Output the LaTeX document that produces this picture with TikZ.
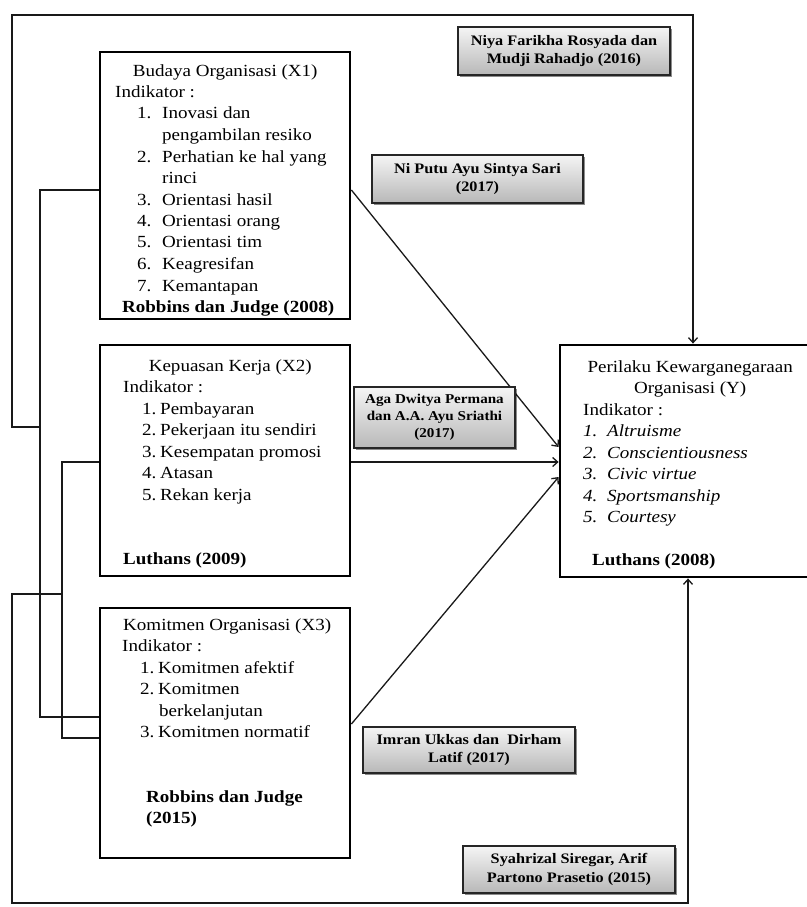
\documentclass[tikz,border=0pt]{standalone}
\usepackage{fontspec}
\setmainfont{Liberation Serif}[FakeStretch=1.12]
\usetikzlibrary{arrows.meta,shadows}
\newcommand\numitem[4]{\hspace*{#1}\makebox[#2][l]{#3}#4}
\begin{document}
\begin{tikzpicture}[x=1pt,y=-1pt,
  mainbox/.style={draw=black, line width=2.8pt, fill=white, rectangle, inner sep=0pt},
  refbox/.style={draw=black!85, line width=1.4pt, rectangle, inner sep=0pt,
    top color=black!4, bottom color=black!28,
    drop shadow={shadow xshift=1.6pt, shadow yshift=-1.6pt, opacity=0.45, fill=black},
    align=center, font=\fontsize{14.5}{18.5}\selectfont\bfseries},
  conn/.style={line width=1.3pt, draw=black!90},
  arr/.style={conn, -{Straight Barb[length=5pt,width=9pt]}},
  txt/.style={anchor=base west, inner sep=0pt, font=\fontsize{17}{21.5}\selectfont}
]
\useasboundingbox (0,0) rectangle (806,907);

% main boxes
\node[mainbox, minimum width=250pt, minimum height=267pt] (X1) at (225,185.5) {};
\node[mainbox, minimum width=250pt, minimum height=231pt] (X2) at (225,460.5) {};
\node[mainbox, minimum width=250pt, minimum height=250pt] (X3) at (225,733) {};
\node[mainbox, minimum width=260pt, minimum height=232pt] (Y) at (690,461) {};

% texts
\node[txt] (X1t) at (115,76) {\parbox[t]{230pt}{%
\makebox[220pt][c]{Budaya Organisasi (X1)}\\
Indikator :\\
\numitem{22pt}{25pt}{1.}{Inovasi dan}\\
\hspace*{47pt}pengambilan resiko\\
\numitem{22pt}{25pt}{2.}{Perhatian ke hal yang}\\
\hspace*{47pt}rinci\\
\numitem{22pt}{25pt}{3.}{Orientasi hasil}\\
\numitem{22pt}{25pt}{4.}{Orientasi orang}\\
\numitem{22pt}{25pt}{5.}{Orientasi tim}\\
\numitem{22pt}{25pt}{6.}{Keagresifan}\\
\numitem{22pt}{25pt}{7.}{Kemantapan}\\
\makebox[226pt][c]{\bfseries Robbins dan Judge (2008)}}};

\node[txt] (X2t) at (123,371) {\parbox[t]{225pt}{%
\makebox[214pt][c]{Kepuasan Kerja (X2)}\\
Indikator :\\
\numitem{19pt}{18pt}{1.}{Pembayaran}\\
\numitem{19pt}{18pt}{2.}{Pekerjaan itu sendiri}\\
\numitem{19pt}{18pt}{3.}{Kesempatan promosi}\\
\numitem{19pt}{18pt}{4.}{Atasan}\\
\numitem{19pt}{18pt}{5.}{Rekan kerja}\\
\mbox{}\\
\mbox{}\\
{\bfseries Luthans (2009)}}};

\node[txt] (X3t) at (122,630) {\parbox[t]{226pt}{%
\hspace*{1pt}Komitmen Organisasi (X3)\\
Indikator :\\
\numitem{18pt}{18pt}{1.}{Komitmen afektif}\\
\numitem{18pt}{18pt}{2.}{Komitmen}\\
\hspace*{37pt}berkelanjutan\\
\numitem{18pt}{18pt}{3.}{Komitmen normatif}\\
\mbox{}\\
\mbox{}\\
\hspace*{24pt}{\bfseries Robbins dan Judge}\\
\hspace*{24pt}{\bfseries (2015)}}};

\node[txt] (Yt) at (583,372) {\parbox[t]{222pt}{%
\makebox[214pt][c]{Perilaku Kewarganegaraan}\\
\makebox[214pt][c]{Organisasi (Y)}\\
Indikator :\\
\itshape
\makebox[24pt][l]{1.}Altruisme\\
\makebox[24pt][l]{2.}Conscientiousness\\
\makebox[24pt][l]{3.}Civic virtue\\
\makebox[24pt][l]{4.}Sportsmanship\\
\makebox[24pt][l]{5.}Courtesy\\
\mbox{}\\
\upshape\hspace*{9pt}{\bfseries Luthans (2008)}}};

% connector corner points
\coordinate (a1) at (40,190);
\coordinate (a2) at (40,717);
\coordinate (a3) at (40,427);
\coordinate (a4) at (12,427);
\coordinate (a5) at (12,15);
\coordinate (a6) at (693,15);
\coordinate (b1) at (62,462);
\coordinate (b2) at (62,738);
\coordinate (b3) at (62,594);
\coordinate (b4) at (12,594);
\coordinate (b5) at (12,903);
\coordinate (b6) at (688,903);

% left and frame connectors
\draw[conn] (a1 -| X1.west) -- (a1) -- (a2) -- (a2 -| X3.west);
\draw[arr] (a3) -- (a4) -- (a5) -- (a6) -- (a6 |- Y.north);
\draw[conn] (b1 -| X2.west) -- (b1) -- (b2) -- (b2 -| X3.west);
\draw[arr] (b3) -- (b4) -- (b5) -- (b6) -- (b6 |- Y.south);

% direct connectors
\draw[arr] (a1 -| X1.east) -- ([yshift=14pt]Y.west);
\draw[arr] (b1 -| X2.east) -- (b1 -| Y.west);
\draw[arr] ([yshift=9pt]X3.east) -- ([yshift=-16pt]Y.west);

% reference boxes
\node[refbox, minimum width=212pt, minimum height=48pt] (R1) at (564,51) {Niya Farikha Rosyada dan\\Mudji Rahadjo (2016)};
\node[refbox, minimum width=211pt, minimum height=48pt] (R2) at (477.5,179) {Ni Putu Ayu Sintya Sari\\(2017)};
\node[refbox, minimum width=161pt, minimum height=61pt, font=\fontsize{13.5}{17}\selectfont\bfseries] (R3) at (434.5,417.5) {Aga Dwitya Permana\\dan A.A. Ayu Sriathi\\(2017)};
\node[refbox, minimum width=212pt, minimum height=46pt] (R4) at (469,750) {Imran Ukkas dan~ Dirham\\Latif (2017)};
\node[refbox, minimum width=212pt, minimum height=47pt] (R5) at (569,869.5) {Syahrizal Siregar, Arif\\Partono Prasetio (2015)};
\end{tikzpicture}
\end{document}
